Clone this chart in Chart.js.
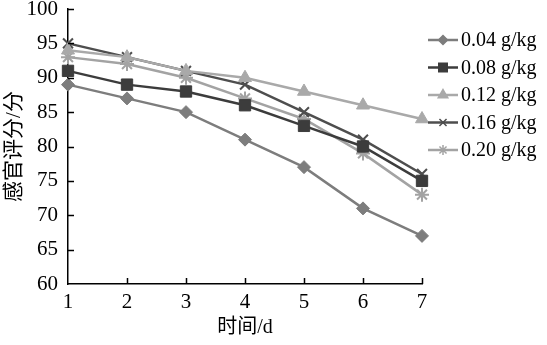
<!DOCTYPE html>
<html>
<head>
<meta charset="utf-8">
<script src="https://cdn.jsdelivr.net/npm/chart.js@4/dist/chart.umd.min.js"></script>
<style>
  html, body { margin: 0; padding: 0; background: #fff; }
  #wrap { width: 547px; height: 345px; }
</style>
</head>
<body>
<div id="wrap"><canvas id="grafico"></canvas></div>
<script>
// Datos
const dias = ['1', '2', '3', '4', '5', '6', '7'];
const etiquetas = ['0.04 g/kg', '0.08 g/kg', '0.12 g/kg', '0.16 g/kg', '0.20 g/kg'];
const serie004 = [89, 87, 85, 81, 77, 71, 67];
const serie008 = [91, 89, 88, 86, 83, 80, 75];
const serie012 = [94, 93, 91, 90, 88, 86, 84];
const serie016 = [95, 93, 91, 89, 85, 81, 76];
const serie020 = [93, 92, 90, 87, 84, 79, 73];
const ticksY = [60, 65, 70, 75, 80, 85, 90, 95, 100];

const serif = '"Liberation Serif", "Times New Roman", serif';
const cjk = '"Liberation Serif", "Noto Sans CJK SC", serif';

const colores = ['#7d7d7d', '#3c3c3c', '#a9a9a9', '#4e4e4e', '#a3a3a3'];
const estilos = ['rectRot', 'rect', 'triangle', 'crossRot', 'star'];
const radios = [6.5, 8, 7.5, 7, 7];
const series = [serie004, serie008, serie012, serie016, serie020];

const datasets = [];
for (let i = 0; i < series.length; i++) {
  datasets.push({
    label: etiquetas[i],
    data: series[i],
    borderColor: colores[i],
    backgroundColor: colores[i],
    borderWidth: 2.5,
    pointStyle: estilos[i],
    pointRadius: radios[i],
    pointBorderWidth: (estilos[i] === 'crossRot' || estilos[i] === 'star') ? 2 : 1,
    tension: 0
  });
}

// Plugin: marcas de los ejes hacia dentro y leyenda a la derecha
const extras = {
  id: 'extras',
  afterDraw(chart) {
    const c = chart.ctx;
    const x = chart.scales.x;
    const y = chart.scales.y;
    c.save();
    c.strokeStyle = '#000';
    c.lineWidth = 1.5;
    c.beginPath();
    for (let i = 1; i < dias.length; i++) {
      const px = Math.round(x.getPixelForValue(i)) + 0.5;
      c.moveTo(px, y.bottom);
      c.lineTo(px, y.bottom - 6);
    }
    for (let i = 1; i < ticksY.length; i++) {
      const py = Math.round(y.getPixelForValue(ticksY[i])) + 0.5;
      c.moveTo(x.left, py);
      c.lineTo(x.left + 6, py);
    }
    c.stroke();

    // leyenda
    const x0 = 428, x1 = 458, y0 = 40, paso = 27.5;
    chart.data.datasets.forEach(function(ds, i) {
      const py = y0 + i * paso;
      c.strokeStyle = ds.borderColor;
      c.fillStyle = ds.backgroundColor;
      c.lineWidth = 2.5;
      c.beginPath();
      c.moveTo(x0, py);
      c.lineTo(x1, py);
      c.stroke();
      c.lineWidth = 1.5;
      Chart.helpers.drawPoint(c, {
        pointStyle: ds.pointStyle,
        radius: ds.pointRadius - 2,
        rotation: 0,
        borderWidth: 1.5
      }, (x0 + x1) / 2, py);
      c.fillStyle = '#000';
      c.font = '20px ' + serif;
      c.textBaseline = 'middle';
      c.textAlign = 'left';
      c.fillText(ds.label, 461, py + 1);
    });
    c.restore();
  }
};

new Chart(document.getElementById('grafico'), {
  type: 'line',
  data: { labels: dias, datasets: datasets },
  plugins: [extras],
  options: {
    responsive: true,
    maintainAspectRatio: false,
    animation: false,
    layout: { padding: { left: 0, right: 125, top: 9, bottom: 0 } },
    plugins: {
      legend: { display: false },
      tooltip: { enabled: false }
    },
    scales: {
      x: {
        offset: false,
        grid: { display: false, drawTicks: false },
        border: { display: true, color: '#000', width: 1.5 },
        ticks: { color: '#000', font: { family: serif, size: 21 }, padding: 6, maxRotation: 0 },
        title: { display: true, text: '时间/d', color: '#000', font: { family: cjk, size: 20 }, padding: { top: 2, bottom: 5 } },
        afterFit(scale) {
          scale.height = 61;
          scale.paddingLeft = 0;
          scale.paddingRight = 0;
        }
      },
      y: {
        min: 60,
        max: 100,
        grid: { display: false, drawTicks: false },
        border: { display: true, color: '#000', width: 1.5 },
        ticks: { color: '#000', font: { family: serif, size: 21 }, padding: 10, stepSize: 5 },
        title: { display: true, text: '感官评分/分', color: '#000', font: { family: cjk, size: 21 }, padding: { top: 2, bottom: 0 } },
        afterFit(scale) {
          scale.width = 68;
          scale.paddingTop = 0;
          scale.paddingBottom = 0;
        }
      }
    }
  }
});
</script>
</body>
</html>
